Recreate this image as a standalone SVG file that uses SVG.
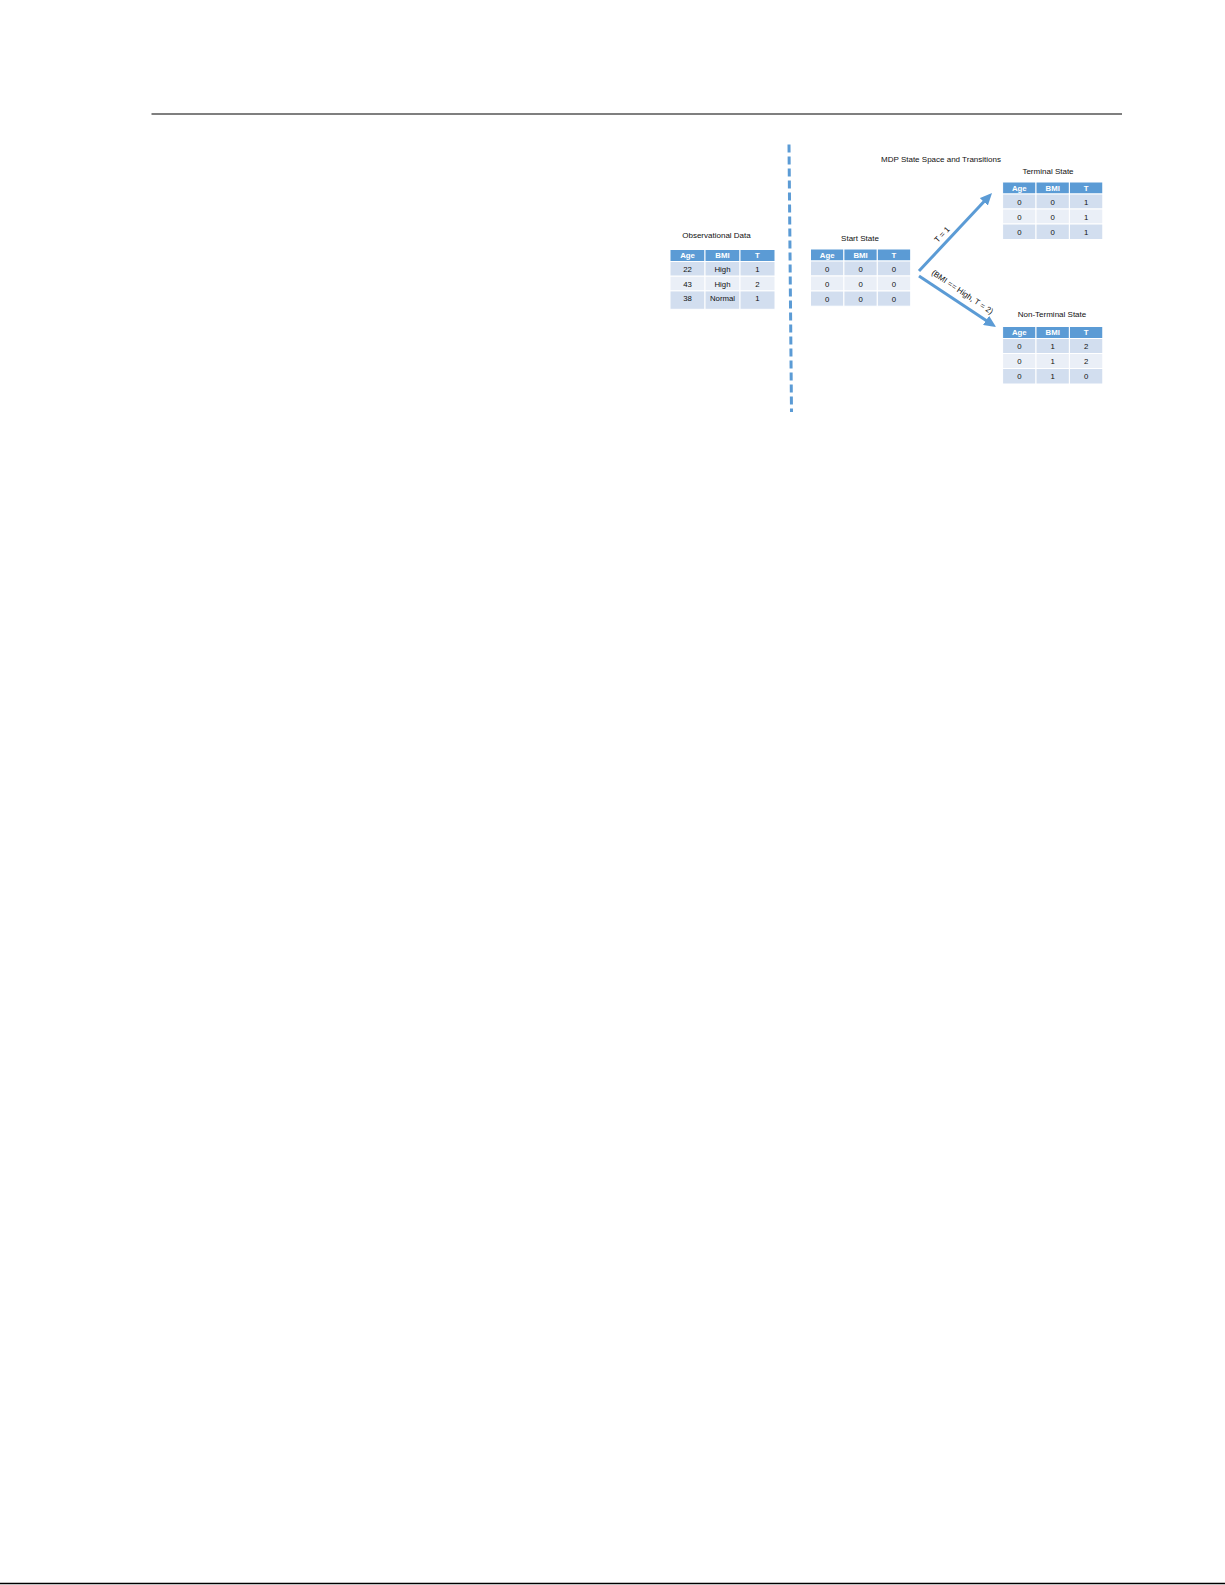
<svg xmlns="http://www.w3.org/2000/svg" width="1225" height="1585" viewBox="0 0 1225 1585">
<style>
text{font-family:"Liberation Sans",Arial,sans-serif;font-size:8px;fill:#111;}
.t{text-anchor:middle;}
.h{fill:#5B9BD5;stroke:#fff;stroke-width:1;}
.o{fill:#D2DEEF;stroke:#fff;stroke-width:1;}
.e{fill:#EAEFF7;stroke:#fff;stroke-width:1;}
.ht{text-anchor:middle;fill:#fff;font-weight:bold;font-size:7.8px;}
.ct{text-anchor:middle;font-size:7.8px;fill:#111;}
.arr{stroke:#5B9BD5;stroke-width:3;fill:none;}
</style>
<defs>
<marker id="ah" markerUnits="userSpaceOnUse" markerWidth="12" markerHeight="11" refX="2" refY="5.5" orient="auto">
<path d="M0,0 L12,5.5 L0,11 z" fill="#5B9BD5"/>
</marker>
</defs>
<g id="page">
<line x1="151.5" y1="114" x2="1122" y2="114" stroke="#000" stroke-width="1.2"/>
<line x1="0" y1="1583.5" x2="1225" y2="1583.5" stroke="#000" stroke-width="1.5"/>
<line x1="789" y1="144.5" x2="791.5" y2="412" stroke="#5B9BD5" stroke-width="3" stroke-dasharray="8 4"/>
<text class="t" x="941" y="161.5">MDP State Space and Transitions</text>
</g>
<g id="obs">
<text class="t" x="716.5" y="238">Observational Data</text>
<rect class="h" x="670" y="249.5" width="35" height="12"/>
<rect class="h" x="705" y="249.5" width="35" height="12"/>
<rect class="h" x="740" y="249.5" width="35" height="12"/>
<rect class="o" x="670" y="261.5" width="35" height="14.7"/>
<rect class="o" x="705" y="261.5" width="35" height="14.7"/>
<rect class="o" x="740" y="261.5" width="35" height="14.7"/>
<rect class="e" x="670" y="276.2" width="35" height="14.7"/>
<rect class="e" x="705" y="276.2" width="35" height="14.7"/>
<rect class="e" x="740" y="276.2" width="35" height="14.7"/>
<rect class="o" x="670" y="290.9" width="35" height="18.4"/>
<rect class="o" x="705" y="290.9" width="35" height="18.4"/>
<rect class="o" x="740" y="290.9" width="35" height="18.4"/>
<text class="ht" x="687.5" y="258.3">Age</text>
<text class="ht" x="722.5" y="258.3">BMI</text>
<text class="ht" x="757.5" y="258.3">T</text>
<text class="ct" x="687.5" y="271.8">22</text>
<text class="ct" x="722.5" y="271.8">High</text>
<text class="ct" x="757.5" y="271.8">1</text>
<text class="ct" x="687.5" y="286.7">43</text>
<text class="ct" x="722.5" y="286.7">High</text>
<text class="ct" x="757.5" y="286.7">2</text>
<text class="ct" x="687.5" y="301.1">38</text>
<text class="ct" x="722.5" y="301.1">Normal</text>
<text class="ct" x="757.5" y="301.1">1</text>
</g>
<g id="start">
<text class="t" x="860" y="240.5">Start State</text>
<rect class="h" x="810.5" y="249" width="33.4" height="12"/>
<rect class="h" x="843.9" y="249" width="33.4" height="12"/>
<rect class="h" x="877.3" y="249" width="33.4" height="12"/>
<rect class="o" x="810.5" y="261" width="33.4" height="15"/>
<rect class="o" x="843.9" y="261" width="33.4" height="15"/>
<rect class="o" x="877.3" y="261" width="33.4" height="15"/>
<rect class="e" x="810.5" y="276" width="33.4" height="15"/>
<rect class="e" x="843.9" y="276" width="33.4" height="15"/>
<rect class="e" x="877.3" y="276" width="33.4" height="15"/>
<rect class="o" x="810.5" y="291" width="33.4" height="15.2"/>
<rect class="o" x="843.9" y="291" width="33.4" height="15.2"/>
<rect class="o" x="877.3" y="291" width="33.4" height="15.2"/>
<text class="ht" x="827.2" y="257.8">Age</text>
<text class="ht" x="860.6" y="257.8">BMI</text>
<text class="ht" x="894" y="257.8">T</text>
<text class="ct" x="827.2" y="271.6">0</text>
<text class="ct" x="860.6" y="271.6">0</text>
<text class="ct" x="894" y="271.6">0</text>
<text class="ct" x="827.2" y="286.6">0</text>
<text class="ct" x="860.6" y="286.6">0</text>
<text class="ct" x="894" y="286.6">0</text>
<text class="ct" x="827.2" y="301.5">0</text>
<text class="ct" x="860.6" y="301.5">0</text>
<text class="ct" x="894" y="301.5">0</text>
</g>
<g id="terminal">
<text class="t" x="1048" y="173.5">Terminal State</text>
<rect class="h" x="1002.6" y="182" width="33.4" height="12"/>
<rect class="h" x="1036" y="182" width="33.4" height="12"/>
<rect class="h" x="1069.4" y="182" width="33.4" height="12"/>
<rect class="o" x="1002.6" y="194" width="33.4" height="15"/>
<rect class="o" x="1036" y="194" width="33.4" height="15"/>
<rect class="o" x="1069.4" y="194" width="33.4" height="15"/>
<rect class="e" x="1002.6" y="209" width="33.4" height="15"/>
<rect class="e" x="1036" y="209" width="33.4" height="15"/>
<rect class="e" x="1069.4" y="209" width="33.4" height="15"/>
<rect class="o" x="1002.6" y="224" width="33.4" height="15.5"/>
<rect class="o" x="1036" y="224" width="33.4" height="15.5"/>
<rect class="o" x="1069.4" y="224" width="33.4" height="15.5"/>
<text class="ht" x="1019.3" y="190.8">Age</text>
<text class="ht" x="1052.7" y="190.8">BMI</text>
<text class="ht" x="1086.1" y="190.8">T</text>
<text class="ct" x="1019.3" y="204.6">0</text>
<text class="ct" x="1052.7" y="204.6">0</text>
<text class="ct" x="1086.1" y="204.6">1</text>
<text class="ct" x="1019.3" y="219.6">0</text>
<text class="ct" x="1052.7" y="219.6">0</text>
<text class="ct" x="1086.1" y="219.6">1</text>
<text class="ct" x="1019.3" y="234.7">0</text>
<text class="ct" x="1052.7" y="234.7">0</text>
<text class="ct" x="1086.1" y="234.7">1</text>
</g>
<g id="nonterminal">
<text class="t" x="1052" y="317">Non-Terminal State</text>
<rect class="h" x="1002.6" y="326.5" width="33.4" height="12"/>
<rect class="h" x="1036" y="326.5" width="33.4" height="12"/>
<rect class="h" x="1069.4" y="326.5" width="33.4" height="12"/>
<rect class="o" x="1002.6" y="338.5" width="33.4" height="15"/>
<rect class="o" x="1036" y="338.5" width="33.4" height="15"/>
<rect class="o" x="1069.4" y="338.5" width="33.4" height="15"/>
<rect class="e" x="1002.6" y="353.5" width="33.4" height="15"/>
<rect class="e" x="1036" y="353.5" width="33.4" height="15"/>
<rect class="e" x="1069.4" y="353.5" width="33.4" height="15"/>
<rect class="o" x="1002.6" y="368.5" width="33.4" height="15.5"/>
<rect class="o" x="1036" y="368.5" width="33.4" height="15.5"/>
<rect class="o" x="1069.4" y="368.5" width="33.4" height="15.5"/>
<text class="ht" x="1019.3" y="335.3">Age</text>
<text class="ht" x="1052.7" y="335.3">BMI</text>
<text class="ht" x="1086.1" y="335.3">T</text>
<text class="ct" x="1019.3" y="349.1">0</text>
<text class="ct" x="1052.7" y="349.1">1</text>
<text class="ct" x="1086.1" y="349.1">2</text>
<text class="ct" x="1019.3" y="364.1">0</text>
<text class="ct" x="1052.7" y="364.1">1</text>
<text class="ct" x="1086.1" y="364.1">2</text>
<text class="ct" x="1019.3" y="379.1">0</text>
<text class="ct" x="1052.7" y="379.1">1</text>
<text class="ct" x="1086.1" y="379.1">0</text>
</g>
<g id="connectors">
<line class="arr" x1="919" y1="271" x2="985.2" y2="200.3" marker-end="url(#ah)"/>
<line class="arr" x1="919" y1="276" x2="987.7" y2="321.5" marker-end="url(#ah)"/>
<text class="t" transform="translate(942 234.5) rotate(-47)" x="0" y="2.8">T = 1</text>
<text class="t" transform="translate(962.5 292) rotate(34)" x="0" y="2.8">(BMI == High, T = 2)</text>
</g>
</svg>
